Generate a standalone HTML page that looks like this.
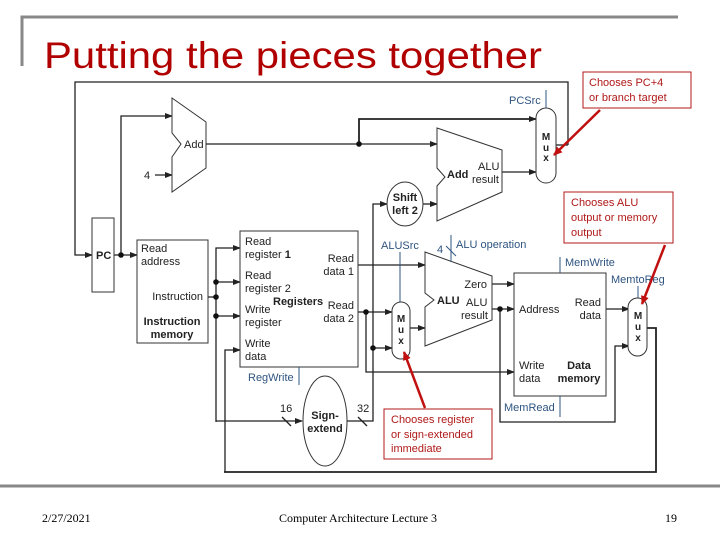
<!DOCTYPE html>
<html><head><meta charset="utf-8"><style>
html,body{margin:0;padding:0;background:#fff}
svg{display:block}
text{font-family:"Liberation Sans",sans-serif;font-size:11px;fill:#222}
.b{font-weight:bold}
.c{fill:#2e5480}
.r{fill:#b01818}
.w{stroke:#222;stroke-width:1.3;fill:none}
.t{stroke:#222;stroke-width:1.8;fill:none}
.s{fill:#fff;stroke:#333;stroke-width:1}
.cl{stroke:#2e5480;stroke-width:1;fill:none}
.rb{fill:#fff;stroke:#b01818;stroke-width:1}
.ra{stroke:#c01010;stroke-width:2.5;fill:none}
</style></head><body>
<svg width="720" height="540" viewBox="0 0 720 540" xmlns="http://www.w3.org/2000/svg">
<defs>
<marker id="a" markerWidth="8" markerHeight="6" refX="7" refY="3" orient="auto" markerUnits="userSpaceOnUse"><path d="M0,0 L8,3 L0,6z" fill="#222"/></marker>
<marker id="ra" markerWidth="9" markerHeight="8" refX="8" refY="4" orient="auto" markerUnits="userSpaceOnUse"><path d="M0,0 L9,4 L0,8z" fill="#c01010"/></marker>
</defs>
<!-- title frame -->
<path d="M22,66 V17 H678" stroke="#888" stroke-width="3" fill="none"/>
<text x="44" y="68" style="font-size:37px;fill:#b00000" textLength="498" lengthAdjust="spacingAndGlyphs">Putting the pieces together</text>
<line x1="0" y1="486" x2="720" y2="486" stroke="#888" stroke-width="3"/>
<text x="42" y="522" style="font-family:'Liberation Serif',serif;font-size:12px;fill:#000">2/27/2021</text>
<text x="279" y="522" style="font-family:'Liberation Serif',serif;font-size:12px;fill:#000" textLength="158">Computer Architecture Lecture 3</text>
<text x="665" y="522" style="font-family:'Liberation Serif',serif;font-size:12px;fill:#000">19</text>

<!-- wires -->
<path class="w" d="M568,145 H568 V82 H75 V255 H92" marker-end="url(#a)"/>
<path class="w" d="M114,255 H137" marker-end="url(#a)"/>
<path class="w" d="M121,255 V116 H172" marker-end="url(#a)"/>
<path class="w" d="M155,175 H172" marker-end="url(#a)"/>
<text x="144" y="179">4</text>
<path class="w" d="M206,144 H437" marker-end="url(#a)"/>
<path class="t" d="M359,144 V119 H536" marker-end="url(#a)"/>
<path class="w" d="M502,172 H536" marker-end="url(#a)"/>
<path class="w" d="M556,145 H568"/>
<path class="w" d="M423,204 H437" marker-end="url(#a)"/>
<path class="w" d="M347,421 H373 V204 H387" marker-end="url(#a)"/>
<path class="w" d="M208,297 H216"/>
<path class="w" d="M216,422 V248 H240" marker-end="url(#a)"/>
<path class="w" d="M216,282 H240" marker-end="url(#a)"/>
<path class="w" d="M216,316 H240" marker-end="url(#a)"/>
<path class="w" d="M216,421 H302" marker-end="url(#a)"/>
<path class="w" d="M225,472 V350 H240" marker-end="url(#a)"/>
<path class="w" d="M358,265 H425" marker-end="url(#a)"/>
<path class="w" d="M358,312 H392" marker-end="url(#a)"/>
<path class="w" d="M366,312 V372 H514" marker-end="url(#a)"/>
<path class="w" d="M373,348 H392" marker-end="url(#a)"/>
<path class="w" d="M410,328 H425" marker-end="url(#a)"/>
<path class="w" d="M492,284 H514" marker-end="url(#a)" stroke-width="1"/>
<path class="w" d="M492,309 H514" marker-end="url(#a)"/>
<path class="w" d="M500,309 V422 H615 V346 H629" marker-end="url(#a)"/>
<path class="w" d="M606,309 H629" marker-end="url(#a)"/>
<path class="t" d="M647,328 H656 V472 H224"/>
<!-- junctions -->
<g fill="#111">
<circle cx="121" cy="255" r="2.8"/><circle cx="359" cy="144" r="2.8"/>
<circle cx="216" cy="297" r="2.8"/><circle cx="216" cy="282" r="2.8"/><circle cx="216" cy="316" r="2.8"/>
<circle cx="366" cy="312" r="2.8"/><circle cx="373" cy="348" r="2.8"/><circle cx="500" cy="309" r="2.8"/>
</g>
<!-- PC -->
<rect class="s" x="92" y="218" width="22" height="74"/>
<text x="96" y="259" class="b">PC</text>
<!-- PC adder -->
<path class="s" d="M172,98 L206,122 L206,168 L172,192 L172,157 L181,144 L172,133 Z"/>
<text x="184" y="148">Add</text>
<!-- branch adder -->
<path class="s" d="M437,128 L502,150 L502,192 L437,221 L437,186 L445,177 L437,168 Z"/>
<text x="447" y="178" class="b">Add</text>
<text x="478" y="170">ALU</text>
<text x="472" y="183">result</text>
<!-- shift -->
<ellipse class="s" cx="405" cy="204" rx="18" ry="22"/>
<text x="405" y="201" class="b" text-anchor="middle">Shift</text>
<text x="405" y="214" class="b" text-anchor="middle">left 2</text>
<!-- PC mux -->
<rect class="s" x="536" y="108" width="20" height="75" rx="10"/>
<text x="546" y="140" class="b" text-anchor="middle" style="font-size:10px">M</text>
<text x="546" y="151" class="b" text-anchor="middle" style="font-size:10px">u</text>
<text x="546" y="161" class="b" text-anchor="middle" style="font-size:10px">x</text>
<path class="cl" d="M546,90 V108"/>
<text x="509" y="104" class="c">PCSrc</text>
<!-- instruction memory -->
<rect class="s" x="137" y="240" width="71" height="103"/>
<text x="141" y="252">Read</text><text x="141" y="265">address</text>
<text x="203" y="300" text-anchor="end">Instruction</text>
<text x="172" y="325" class="b" text-anchor="middle">Instruction</text>
<text x="172" y="338" class="b" text-anchor="middle">memory</text>
<!-- registers -->
<rect class="s" x="240" y="231" width="118" height="136"/>
<text x="245" y="245">Read</text><text x="245" y="258">register <tspan class="b">1</tspan></text>
<text x="245" y="279">Read</text><text x="245" y="292">register 2</text>
<text x="245" y="313">Write</text><text x="245" y="326">register</text>
<text x="245" y="347">Write</text><text x="245" y="360">data</text>
<text x="354" y="262" text-anchor="end">Read</text><text x="354" y="275" text-anchor="end">data 1</text>
<text x="354" y="309" text-anchor="end">Read</text><text x="354" y="322" text-anchor="end">data 2</text>
<text x="273" y="305" class="b">Registers</text>
<path class="cl" d="M299,367 V385"/>
<text x="248" y="381" class="c">RegWrite</text>
<!-- sign extend -->
<ellipse class="s" cx="325" cy="421" rx="22" ry="45"/>
<text x="325" y="419" class="b" text-anchor="middle">Sign-</text>
<text x="325" y="432" class="b" text-anchor="middle">extend</text>
<text x="280" y="412">16</text><path class="w" d="M282,417 L291,426" stroke-width="1"/>
<text x="357" y="412">32</text><path class="w" d="M358,417 L367,426" stroke-width="1"/>
<!-- ALUSrc mux -->
<rect class="s" x="392" y="302" width="18" height="57" rx="9"/>
<text x="401" y="322" class="b" text-anchor="middle" style="font-size:10px">M</text>
<text x="401" y="333" class="b" text-anchor="middle" style="font-size:10px">u</text>
<text x="401" y="344" class="b" text-anchor="middle" style="font-size:10px">x</text>
<path class="cl" d="M400,252 V302"/>
<text x="381" y="249" class="c">ALUSrc</text>
<!-- ALU -->
<path class="s" d="M425,252 L492,276 L492,320 L425,346 L425,307 L434,300 L425,293 Z"/>
<text x="437" y="304" class="b">ALU</text>
<text x="487" y="288" text-anchor="end">Zero</text>
<text x="466" y="306">ALU</text><text x="461" y="319">result</text>
<path class="cl" d="M451,235 V262"/><path class="cl" d="M446,246 L456,256"/>
<text x="437" y="253" class="c">4</text>
<text x="456" y="248" class="c">ALU operation</text>
<!-- data memory -->
<rect class="s" x="514" y="273" width="92" height="123"/>
<text x="519" y="313">Address</text>
<text x="601" y="306" text-anchor="end">Read</text><text x="601" y="319" text-anchor="end">data</text>
<text x="519" y="369">Write</text><text x="519" y="382">data</text>
<text x="579" y="369" class="b" text-anchor="middle">Data</text>
<text x="579" y="382" class="b" text-anchor="middle">memory</text>
<path class="cl" d="M560,257 V273"/><text x="565" y="266" class="c">MemWrite</text>
<path class="cl" d="M560,396 V417"/><text x="504" y="411" class="c">MemRead</text>
<!-- memtoreg mux -->
<rect class="s" x="628" y="298" width="19" height="58" rx="9.5"/>
<text x="638" y="319" class="b" text-anchor="middle" style="font-size:10px">M</text>
<text x="638" y="330" class="b" text-anchor="middle" style="font-size:10px">u</text>
<text x="638" y="341" class="b" text-anchor="middle" style="font-size:10px">x</text>
<path class="cl" d="M638,286 V298"/><text x="611" y="283" class="c">MemtoReg</text>
<!-- callouts -->
<rect class="rb" x="583" y="72" width="108" height="36"/>
<text x="589" y="86" class="r">Chooses PC+4</text>
<text x="589" y="101" class="r">or branch target</text>
<path class="ra" d="M600,110 L554,155" marker-end="url(#ra)"/>
<rect class="rb" x="564" y="192" width="109" height="51"/>
<text x="571" y="206" class="r">Chooses ALU</text>
<text x="571" y="221" class="r">output or memory</text>
<text x="571" y="236" class="r">output</text>
<path class="ra" d="M665,245 L642,304" marker-end="url(#ra)"/>
<rect class="rb" x="384" y="409" width="108" height="50"/>
<text x="391" y="423" class="r">Chooses register</text>
<text x="391" y="438" class="r">or sign-extended</text>
<text x="391" y="452" class="r">immediate</text>
<path class="ra" d="M425,408 L404,352" marker-end="url(#ra)"/>
</svg>
</body></html>
